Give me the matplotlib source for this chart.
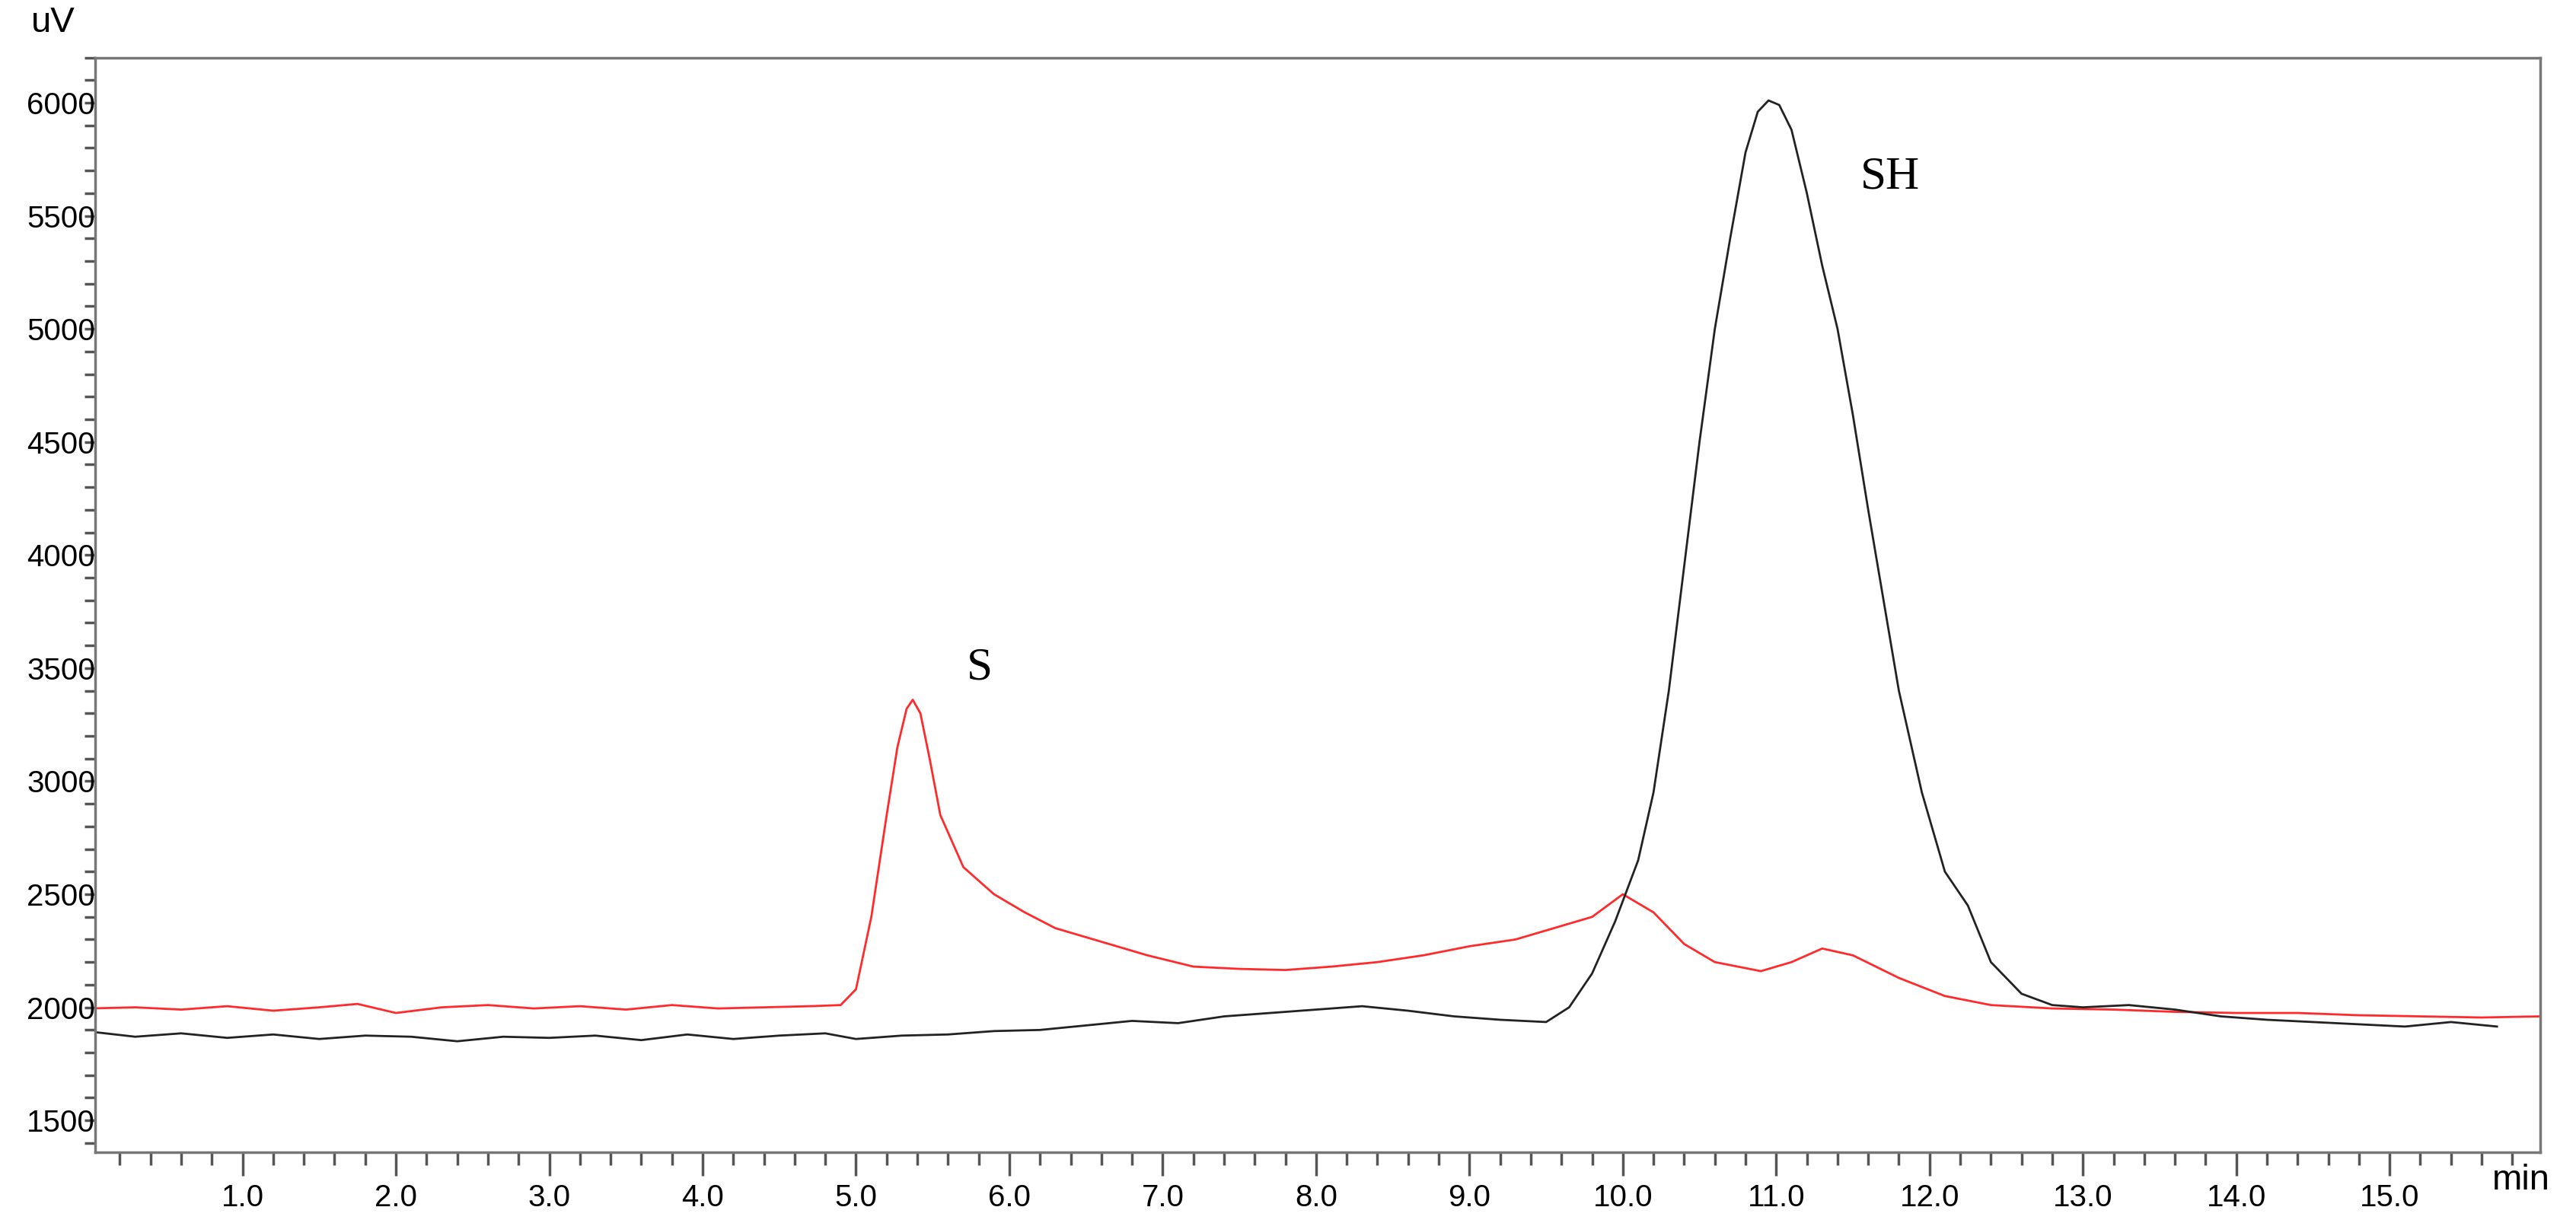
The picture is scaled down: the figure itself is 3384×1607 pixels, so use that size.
import matplotlib
matplotlib.use("Agg")
import matplotlib.pyplot as plt
import numpy as np
from matplotlib.ticker import MultipleLocator, FixedLocator

# SH trace (black)
sh_t = [0.04,0.3,0.6,0.9,1.2,1.5,1.8,2.1,2.4,2.7,3.0,3.3,3.6,3.9,4.2,4.5,4.8,5.0,5.3,5.6,5.9,6.2,6.5,6.8,7.1,7.4,7.7,8.0,8.3,8.6,8.9,9.2,9.5,9.65,9.8,9.95,10.1,10.2,10.3,10.4,10.5,10.6,10.7,10.8,10.88,10.95,11.02,11.1,11.2,11.3,11.4,11.5,11.6,11.7,11.8,11.95,12.1,12.25,12.4,12.6,12.8,13.0,13.3,13.6,13.9,14.2,14.5,14.8,15.1,15.4,15.7]
sh_v = [1890,1870,1885,1865,1880,1860,1875,1870,1850,1870,1865,1875,1855,1880,1860,1875,1885,1860,1875,1880,1895,1900,1920,1940,1930,1960,1975,1990,2005,1985,1960,1945,1935,2000,2150,2380,2650,2950,3400,3950,4500,5000,5400,5780,5960,6010,5990,5880,5600,5280,5000,4620,4200,3800,3400,2950,2600,2450,2200,2060,2010,2000,2010,1990,1960,1945,1935,1925,1915,1935,1915]

# S trace (red)
s_t = [0.0,0.3,0.6,0.9,1.2,1.5,1.75,2.0,2.3,2.6,2.9,3.2,3.5,3.8,4.1,4.4,4.7,4.9,5.0,5.1,5.2,5.27,5.33,5.37,5.42,5.48,5.55,5.7,5.9,6.1,6.3,6.6,6.9,7.2,7.5,7.8,8.1,8.4,8.7,9.0,9.3,9.6,9.8,10.0,10.2,10.4,10.6,10.9,11.1,11.3,11.5,11.8,12.1,12.4,12.8,13.2,13.6,14.0,14.4,14.8,15.2,15.6,15.98]
s_v = [1995,2000,1990,2005,1985,2000,2015,1975,2000,2010,1995,2005,1990,2010,1995,2000,2005,2010,2080,2400,2850,3150,3320,3360,3300,3100,2850,2620,2500,2420,2350,2290,2230,2180,2170,2165,2180,2200,2230,2270,2300,2360,2400,2500,2420,2280,2200,2160,2200,2260,2230,2130,2050,2010,1995,1990,1980,1975,1975,1965,1960,1955,1960]

x_major = np.arange(1.0, 16.0, 1.0)
x_labels = [f"{v:.1f}" for v in x_major]
y_major = np.arange(1500, 6001, 500)
y_labels = [str(v) for v in y_major]

fig = plt.figure(figsize=(33.84, 16.07), dpi=100)
ax = fig.add_axes([0.037, 0.058, 0.949, 0.895])
ax.plot(s_t, s_v, color="#ff2a2a", lw=2)
ax.plot(sh_t, sh_v, color="#222222", lw=2)
ax.set_xlim(0.04, 15.98)
ax.set_ylim(1360, 6200)

ax.xaxis.set_major_locator(FixedLocator(x_major))
ax.set_xticklabels(x_labels)
ax.xaxis.set_minor_locator(MultipleLocator(0.2))
ax.yaxis.set_major_locator(FixedLocator(y_major))
ax.set_yticklabels(y_labels)
ax.yaxis.set_minor_locator(MultipleLocator(100))
for sp in ax.spines.values():
    sp.set_color("#777777"); sp.set_linewidth(2.5)
ax.tick_params(axis="x", which="major", length=22, width=2.5, color="#555555", labelsize=29, pad=8)
ax.tick_params(axis="x", which="minor", length=12, width=2.5, color="#555555")
ax.tick_params(axis="y", which="major", length=10, width=2.5, color="#555555", labelsize=29, pad=-10)
ax.tick_params(axis="y", which="minor", length=10, width=2.5, color="#555555")
for lab in ax.get_xticklabels() + ax.get_yticklabels():
    lab.set_family("Liberation Sans")

ax.text(5.72, 3450, "S", fontsize=44, family="Liberation Serif")
ax.text(11.55, 5620, "SH", fontsize=44, family="Liberation Serif")
fig.text(0.012, 0.995, "uV", fontsize=34, family="Liberation Sans", va="top")
fig.text(0.99, 0.035, "min", fontsize=34, family="Liberation Sans", ha="right", va="center")

fig.savefig("out.png", dpi=100)
